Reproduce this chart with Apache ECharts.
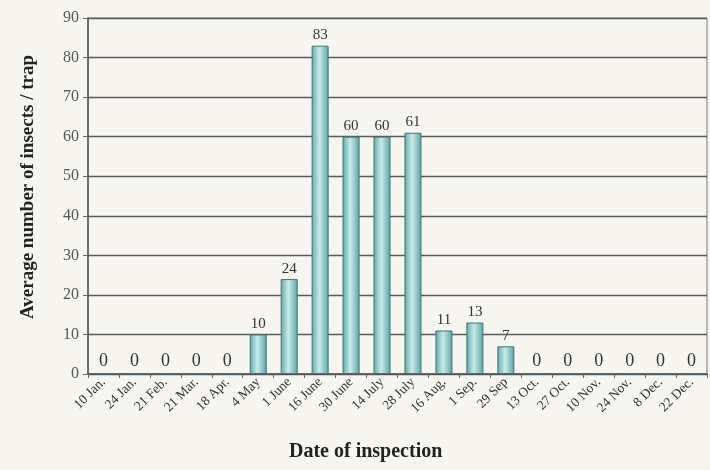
<!DOCTYPE html>
<html><head><meta charset="utf-8">
<script src="https://cdn.jsdelivr.net/npm/echarts@6/dist/echarts.min.js"></script>
<style>html,body{margin:0;padding:0;background:#f7f5f0;}#c{width:710px;height:470px;}</style>
</head><body><div id="c"></div>
<script>
const categories = ['10 Jan.','24 Jan.','21 Feb.','21 Mar.','18 Apr.','4 May','1 June','16 June','30 June','14 July','28 July','16 Aug.','1 Sep.','29 Sep','13 Oct.','27 Oct.','10 Nov.','24 Nov.','8 Dec.','22 Dec.'];
const values = [0,0,0,0,0,10,24,83,60,60,61,11,13,7,0,0,0,0,0,0];
const yTicks = [0,10,20,30,40,50,60,70,80,90];

const font = '"Liberation Serif", "DejaVu Serif", serif';
const chart = echarts.init(document.getElementById('c'));
chart.setOption({
  backgroundColor: '#f7f5f0',
  animation: false,
  grid: {left: 88, right: 3, top: 18, bottom: 96, show: true, borderColor: '#777', borderWidth: 1, backgroundColor: 'transparent'},
  xAxis: {
    type: 'category', data: categories,
    axisLine: {lineStyle: {color: '#555', width: 1.5}},
    axisTick: {show: true, length: 4, lineStyle: {color: '#666'}},
    axisLabel: {rotate: 45, fontFamily: font, fontSize: 13.5, color: '#333', margin: 6}
  },
  yAxis: {
    type: 'value', min: 0, max: 90, interval: 10,
    name: 'Average number of insects / trap', nameLocation: 'middle', nameGap: 50,
    nameTextStyle: {fontFamily: font, fontWeight: 'bold', fontSize: 19, color: '#222', padding: [0, 0, 0, 18]},
    axisLine: {show: true, lineStyle: {color: '#555', width: 1.5}},
    axisTick: {show: true, length: 5, lineStyle: {color: '#666'}},
    axisLabel: {fontFamily: font, fontSize: 16, color: '#555', margin: 9,
      formatter: v => yTicks.includes(v) ? String(v) : ''},
    splitLine: {lineStyle: {color: '#5a5a5a', width: 1.4}}
  },
  graphic: [{type: 'text', left: 289, top: 442, style: {text: 'Date of inspection', font: 'bold 20px ' + font, fill: '#222'}}],
  series: [{
    type: 'bar', barWidth: 17,
    data: values.map(v => ({value: v, label: {fontSize: v === 0 ? 18 : 15}})),
    itemStyle: {
      color: new echarts.graphic.LinearGradient(0, 0, 1, 0, [
        {offset: 0, color: '#5fa9ab'}, {offset: 0.45, color: '#c9eaea'}, {offset: 1, color: '#5aa3a6'}]),
      borderColor: '#3a7476', borderWidth: 1
    },
    label: {show: true, position: 'top', distance: 3, fontFamily: font, color: '#333'}
  }]
});
</script></body></html>
